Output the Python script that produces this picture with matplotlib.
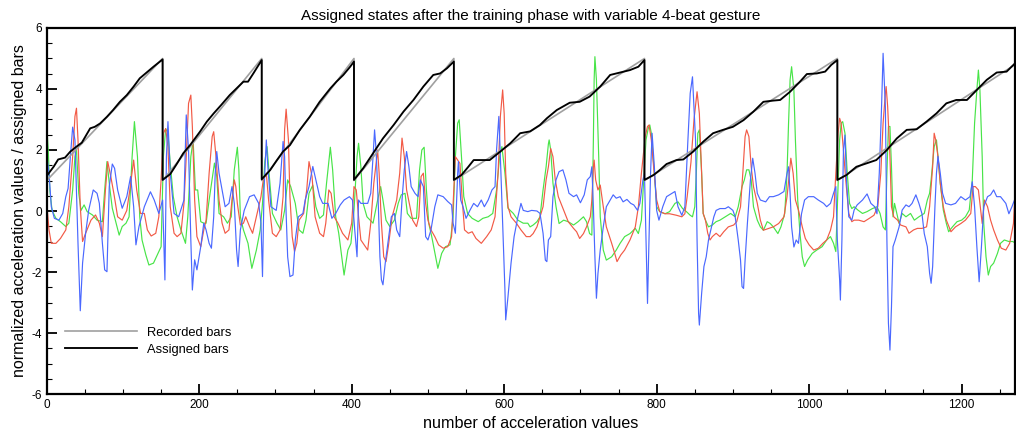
import matplotlib
matplotlib.use("Agg")
import matplotlib.pyplot as plt
from matplotlib.ticker import MultipleLocator

plt.rcParams["font.family"] = ["Liberation Sans", "DejaVu Sans"]
plt.rcParams["axes.unicode_minus"] = False

# acceleration signals (index, value)
blue_x = [0, 3, 6, 10, 16, 21, 25, 28, 31, 34, 37, 39, 41, 44, 47, 51, 55, 61, 66, 69,
          73, 76, 79, 82, 86, 89, 93, 99, 105, 110, 114, 117, 121, 128, 136, 141, 147, 152, 155, 157,
          159, 162, 167, 173, 180, 183, 186, 189, 191, 194, 197, 202, 206, 209, 213, 216, 219, 221, 223, 226,
          230, 234, 239, 243, 246, 249, 251, 254, 259, 266, 272, 278, 281, 283, 285, 288, 290, 294, 301, 306,
          310, 312, 314, 316, 319, 323, 326, 330, 336, 339, 344, 349, 353, 358, 362, 369, 374, 379, 385, 390,
          397, 401, 404, 407, 409, 412, 419, 421, 425, 428, 430, 432, 435, 437, 439, 441, 444, 448, 452, 456,
          459, 463, 466, 469, 472, 475, 478, 483, 487, 490, 494, 497, 500, 504, 509, 513, 520, 526, 531, 533,
          536, 539, 540, 543, 546, 550, 555, 560, 565, 570, 574, 579, 584, 588, 590, 593, 595, 598, 601, 602,
          605, 609, 613, 618, 622, 625, 631, 636, 643, 647, 651, 654, 656, 658, 661, 664, 668, 672, 677, 681,
          685, 691, 695, 700, 705, 709, 713, 715, 717, 719, 721, 723, 726, 730, 734, 739, 743, 747, 752, 756,
          761, 766, 770, 775, 778, 782, 784, 786, 788, 790, 792, 794, 797, 800, 803, 808, 813, 820, 824, 828,
          833, 837, 841, 844, 847, 851, 853, 855, 856, 859, 862, 865, 868, 872, 875, 878, 883, 890, 894, 900,
          903, 907, 910, 912, 914, 916, 919, 923, 926, 929, 932, 936, 943, 948, 953, 960, 967, 971, 973, 975,
          977, 980, 983, 986, 990, 994, 999, 1006, 1012, 1019, 1023, 1028, 1032, 1035, 1037, 1040, 1041, 1043, 1045, 1047,
          1049, 1052, 1056, 1059, 1063, 1070, 1076, 1081, 1086, 1089, 1092, 1095, 1097, 1100, 1102, 1104, 1106, 1108, 1110, 1113,
          1118, 1122, 1127, 1131, 1135, 1140, 1144, 1148, 1151, 1155, 1158, 1160, 1162, 1165, 1167, 1169, 1172, 1175, 1179, 1186,
          1192, 1199, 1205, 1211, 1214, 1217, 1220, 1223, 1226, 1229, 1234, 1238, 1242, 1246, 1251, 1258, 1262, 1266, 1271]
blue_y = [1.84, 1.24, 0.14, -0.24, -0.3, -0.08, 0.47, 0.74, 1.78, 2.75, 2.33, 0.69, -1.06, -3.27, -1.71, -0.73, 0.02, 0.69, 0.58, 0.25,
          -1.06, -1.93, -1.99, 0.8, 1.54, 1.4, 0.69, 0.09, 0.47, 1.13, 0.14, -1.11, -0.51, 0.14, 0.63, 0.36, -0.08, 0.36, -2.26, 1.78,
          2.93, 1.24, -0.08, -0.19, 0.36, 3.15, 2.0, -0.95, -2.59, -1.6, -1.93, -1.17, -0.4, -0.62, -1.06, -1.22, -0.19, 1.24, 1.95, 1.24,
          0.69, 0.14, 0.25, 0.8, 0.25, -1.28, -1.82, -0.62, 0.02, 0.47, 0.53, 0.25, -0.4, -2.15, 0.69, 2.33, 1.46, 0.14, 0.02, 0.91,
          2.28, 1.78, -0.08, -1.5, -2.15, -2.1, -0.95, -0.19, -0.08, 0.36, 0.8, 1.46, 1.02, 0.47, 0.25, 0.25, -0.24, -0.08, 0.2, 0.36,
          0.47, 0.36, -0.62, -1.5, 0.36, 0.25, 0.25, 0.25, 0.58, 1.78, 2.66, 2.0, 0.14, -1.5, -2.26, -2.42, -1.71, -0.95, -0.19, -0.08,
          -0.62, -0.84, 0.36, 1.35, 1.95, 1.46, 0.8, 0.58, 0.47, 1.02, 0.8, -0.84, -0.95, -0.62, 0.14, 0.53, 0.47, 0.31, 0.2, -0.4,
          -0.73, 1.24, 1.62, 0.36, 0.14, -0.24, 0.02, 0.25, 0.14, 0.36, 0.14, 0.36, 0.69, 0.8, 2.0, 3.1, 1.78, -0.4, -2.59, -3.57,
          -2.81, -1.71, -0.84, -0.19, 0.25, 0.02, -0.02, 0.02, 0.0, -0.08, -0.73, -1.61, -1.66, -0.95, -0.84, 0.47, 1.02, 1.29, 1.35, 1.02,
          0.58, 0.47, 0.53, 0.27, 0.53, 1.02, 1.13, 1.45, 0.14, -1.5, -2.86, -2.05, -1.28, -0.52, 0.14, 0.36, 0.53, 0.42, 0.47, 0.3,
          0.38, 0.25, 0.2, 0.02, 0.25, 1.02, 1.24, -0.95, -3.03, -0.95, 1.24, 2.55, 1.45, 0.02, -0.3, 0.14, 0.47, 0.58, 0.64, 0.14,
          -0.14, 0.14, 2.33, 3.86, 4.4, 2.33, -0.95, -3.36, -3.74, -2.7, -1.82, -1.5, -0.95, -0.52, -0.19, 0.02, 0.08, 0.08, 0.14, 0.02,
          -0.19, -0.95, -1.61, -2.48, -2.54, -1.61, -0.41, 1.02, 1.73, 1.24, 0.58, 0.36, 0.3, 0.47, 0.47, 0.53, 0.64, 1.24, 1.45, 0.58,
          -0.52, -1.18, -0.95, -1.06, -0.09, 0.36, 0.47, 0.47, 0.36, 0.25, 0.14, 0.25, 0.58, 0.8, -0.95, -2.26, -2.92, -0.95, 2.0, 2.49,
          1.02, -0.19, -0.3, 0.03, 0.2, 0.36, 0.56, 0.25, 0.14, -0.09, 1.24, 3.42, 5.17, 3.42, -0.95, -3.68, -4.56, -3.14, -1.17, -0.95,
          -0.52, 0.03, 0.2, 0.14, 0.25, 0.53, 0.25, -0.09, -0.74, -1.17, -2.04, -2.37, -1.82, 0.14, 1.24, 1.79, 1.24, 0.58, 0.25, 0.2,
          0.25, 0.47, 0.36, 0.47, 0.96, 0.14, -1.17, -2.32, -1.17, 0.14, 0.47, 0.53, 0.69, 0.47, 0.47, 0.25, -0.09, 0.14, 0.47]

red_x = [0, 3, 6, 12, 18, 25, 29, 34, 37, 39, 41, 44, 47, 51, 58, 64, 69, 73, 77, 80,
         84, 88, 93, 99, 105, 109, 114, 118, 123, 128, 132, 137, 143, 147, 150, 153, 156, 159, 162, 167,
         171, 176, 180, 183, 186, 189, 191, 194, 197, 202, 206, 209, 213, 217, 219, 222, 226, 230, 234, 239,
         243, 246, 248, 250, 254, 258, 261, 266, 270, 275, 281, 284, 288, 291, 296, 301, 306, 310, 312, 314,
         317, 319, 322, 325, 328, 331, 337, 341, 344, 348, 352, 358, 363, 366, 370, 373, 377, 382, 388, 395,
         400, 403, 406, 409, 412, 418, 421, 425, 429, 434, 436, 439, 442, 445, 448, 453, 459, 463, 466, 469,
         472, 476, 480, 485, 488, 491, 494, 497, 500, 504, 509, 514, 520, 526, 531, 534, 536, 539, 542, 545,
         548, 553, 558, 563, 570, 577, 583, 588, 592, 595, 598, 600, 602, 605, 609, 616, 622, 629, 634, 638,
         643, 647, 651, 655, 658, 661, 664, 667, 671, 678, 684, 691, 695, 699, 704, 708, 713, 715, 717, 718,
         720, 723, 726, 730, 734, 741, 745, 748, 753, 758, 765, 772, 776, 780, 785, 788, 790, 793, 796, 800,
         804, 811, 817, 826, 833, 837, 840, 845, 849, 853, 856, 859, 861, 864, 867, 870, 873, 878, 883, 888,
         894, 901, 905, 910, 913, 916, 918, 921, 924, 927, 932, 936, 940, 947, 953, 960, 967, 971, 974, 976,
         979, 982, 986, 991, 995, 1000, 1006, 1012, 1018, 1023, 1028, 1032, 1035, 1038, 1040, 1042, 1045, 1048, 1052, 1056,
         1059, 1065, 1072, 1079, 1085, 1090, 1094, 1097, 1100, 1101, 1103, 1106, 1108, 1111, 1116, 1120, 1127, 1131, 1137, 1142,
         1148, 1154, 1158, 1162, 1164, 1166, 1169, 1172, 1176, 1180, 1186, 1192, 1199, 1205, 1212, 1215, 1218, 1222, 1224, 1227,
         1230, 1234, 1238, 1242, 1247, 1252, 1258, 1263, 1268, 1271]
red_y = [0.25, -0.62, -1.06, -1.06, -0.9, -0.62, 0.14, 1.78, 3.1, 3.37, 2.33, 0.14, -1.0, -0.73, -0.3, -0.13, -0.4, -0.84, 0.69, 1.62,
         1.13, 0.58, -0.19, -0.3, 0.02, 0.69, 1.67, 0.69, -0.08, -0.08, -0.62, -0.82, -0.73, -0.19, 1.02, 2.55, 2.7, 2.1, 0.14, -0.73,
         -0.84, -0.73, 0.25, 1.78, 3.53, 3.8, 2.77, 0.36, -0.84, -1.17, -0.62, -0.3, 1.24, 2.44, 2.6, 1.78, 0.36, -0.4, -0.73, -0.62,
         0.36, 1.02, 0.8, 0.25, -0.46, -0.4, -0.19, -0.51, -0.73, -0.19, 0.47, 1.02, 1.24, 0.36, -0.73, -0.84, -0.62, 0.47, 2.66, 3.34,
         2.33, 0.47, -0.84, -1.33, -1.06, -0.3, -0.08, 0.69, 1.62, 1.13, -0.19, -0.73, -0.84, -0.4, 0.69, 0.58, -0.19, -0.4, -0.73, -0.95,
         -0.4, 0.8, 0.69, -0.19, -0.95, -1.17, -1.28, -0.4, 0.91, 2.0, 1.24, -0.4, -1.5, -1.66, -1.17, -0.19, 0.36, 1.24, 2.39, 1.78,
         0.69, 0.2, -0.3, -0.51, -0.19, 1.13, 1.24, 0.25, -0.3, -0.62, -0.84, -1.11, -1.22, -1.17, -0.84, 0.69, 1.78, 1.67, 1.56, 0.36,
         -0.62, -0.73, -0.68, -0.9, -1.06, -0.84, -0.62, -0.19, 1.24, 3.1, 3.97, 3.2, 1.24, 0.14, -0.19, -0.4, -0.62, -0.84, -0.84, -0.74,
         -0.52, -0.19, 0.14, 1.02, 1.45, 2.05, 1.78, 1.02, 0.47, 0.03, -0.35, -0.57, -0.68, -0.9, -0.74, -0.52, -0.19, 0.36, 1.45, 1.67,
         1.02, 0.69, 0.85, 0.14, -0.52, -1.06, -1.39, -1.66, -1.44, -1.28, -0.95, -0.52, 0.14, 1.24, 2.44, 2.77, 2.82, 2.33, 1.45, 0.36,
         -0.02, -0.09, -0.09, -0.14, -0.19, -0.09, 0.47, 1.6, 3.0, 3.91, 3.2, 1.24, -0.08, -0.3, -0.73, -0.95, -0.84, -0.73, -0.84, -0.68,
         -0.52, -0.46, -0.35, 0.14, 1.24, 2.44, 2.66, 2.44, 1.45, 0.8, 0.25, -0.3, -0.63, -0.57, -0.52, -0.41, -0.19, 0.47, 1.24, 1.73,
         1.24, 0.36, 0.03, -0.52, -0.9, -1.11, -1.28, -1.22, -1.06, -0.95, -0.63, -0.19, 1.24, 2.55, 3.04, 2.88, 2.0, 1.02, -0.08, -0.35,
         -0.3, -0.3, -0.35, -0.24, -0.14, 0.14, 1.24, 2.88, 3.86, 4.08, 3.42, 1.78, 0.14, -0.19, -0.3, -0.46, -0.52, -0.73, -0.62, -0.57,
         -0.57, -0.52, 0.14, 1.45, 2.55, 2.33, 1.78, 0.91, 0.14, -0.3, -0.68, -0.52, -0.41, -0.3, -0.08, 0.8, 0.8, 0.69, 0.25, -0.41,
         0.36, 0.14, -0.3, -0.62, -0.95, -1.22, -1.28, -1.06, -0.41, 1.02]

green_x = [0, 2, 4, 7, 12, 18, 25, 29, 34, 37, 39, 42, 45, 49, 53, 60, 66, 73, 76, 79,
           83, 86, 90, 95, 99, 104, 108, 112, 115, 119, 122, 125, 130, 134, 140, 145, 150, 153, 156, 159,
           162, 166, 171, 176, 182, 185, 189, 192, 195, 198, 202, 206, 209, 213, 218, 220, 223, 226, 232, 237,
           242, 246, 250, 252, 254, 258, 264, 269, 275, 280, 283, 286, 289, 292, 296, 302, 307, 312, 316, 320,
           326, 331, 336, 340, 344, 349, 353, 358, 363, 367, 372, 375, 379, 383, 388, 390, 395, 399, 403, 407,
           409, 412, 415, 420, 428, 434, 438, 441, 445, 450, 456, 461, 465, 470, 473, 478, 485, 489, 492, 495,
           498, 501, 505, 510, 513, 518, 523, 529, 533, 536, 539, 541, 544, 547, 552, 558, 566, 572, 579, 585,
           590, 594, 597, 601, 605, 612, 618, 625, 631, 634, 638, 643, 647, 651, 655, 658, 659, 661, 664, 668,
           672, 678, 684, 691, 697, 704, 708, 712, 715, 717, 718, 719, 721, 724, 726, 730, 734, 741, 747, 752,
           758, 765, 772, 776, 780, 783, 786, 789, 791, 793, 797, 800, 804, 811, 817, 824, 828, 834, 839, 844,
           847, 850, 852, 854, 856, 859, 861, 864, 868, 873, 878, 883, 890, 897, 903, 907, 912, 915, 918, 921,
           924, 927, 932, 936, 940, 945, 949, 953, 959, 963, 968, 971, 973, 975, 977, 980, 982, 985, 988, 991,
           994, 998, 1004, 1010, 1017, 1023, 1028, 1032, 1035, 1037, 1040, 1042, 1044, 1047, 1050, 1053, 1056, 1059, 1064, 1070,
           1076, 1083, 1089, 1093, 1097, 1100, 1102, 1104, 1106, 1108, 1110, 1112, 1115, 1118, 1122, 1127, 1133, 1138, 1144, 1151,
           1155, 1158, 1160, 1164, 1167, 1169, 1172, 1176, 1180, 1183, 1188, 1194, 1200, 1205, 1210, 1214, 1217, 1220, 1222, 1224,
           1227, 1229, 1232, 1235, 1238, 1242, 1247, 1251, 1256, 1262, 1267, 1271]
green_y = [2.77, 2.0, 0.69, 0.02, -0.24, -0.35, -0.51, -0.4, 0.69, 1.78, 2.0, 0.58, 0.02, 0.2, -0.02, -0.13, -0.3, -0.35, 0.69, 1.62,
           0.69, 0.09, -0.3, -0.79, -0.51, -0.4, -0.19, 1.78, 2.93, 1.78, -0.19, -0.95, -1.44, -1.77, -1.71, -1.44, -1.17, 1.78, 2.7, 2.55,
           1.56, 0.47, -0.19, -0.62, -1.06, -0.19, 1.78, 2.33, 0.69, 0.69, -0.35, -0.4, -0.4, 0.36, 1.24, 1.57, 1.13, -0.08, -0.19, -0.4,
           -0.19, 1.35, 2.09, 1.35, -0.19, -0.62, -1.06, -1.88, -1.28, -0.62, 0.25, 1.62, 2.11, 1.13, -0.08, -0.4, -0.62, 0.02, 1.02, 0.8,
           0.25, -0.62, -0.73, -0.3, 0.58, 0.85, 0.14, -0.24, -0.13, 0.91, 2.09, 1.35, -0.19, -0.73, -1.71, -2.1, -1.28, -1.06, 0.02, 1.78,
           2.22, 1.46, 0.25, -0.19, -0.4, 0.36, 0.8, 0.36, -0.3, -0.51, -0.3, 0.25, 0.53, 0.58, -0.08, -0.24, -0.24, 1.35, 2.0, 2.09,
           0.69, -0.4, -0.84, -1.5, -1.88, -1.39, -1.17, -1.11, -0.19, 1.78, 2.88, 2.99, 1.78, 0.47, -0.08, -0.24, -0.35, -0.24, -0.19, -0.08,
           0.69, 1.78, 2.11, 1.24, 0.09, -0.08, -0.3, -0.4, -0.4, -0.52, -0.46, -0.35, -0.19, 0.69, 1.45, 2.2, 2.33, 2.0, 0.91, 0.14,
           -0.41, -0.3, -0.35, -0.46, -0.35, -0.19, -0.35, -0.74, -0.79, 2.33, 4.3, 5.06, 4.3, 1.78, -0.19, -1.28, -1.61, -1.5, -1.28, -1.06,
           -0.84, -0.74, -0.57, -0.74, -0.3, 1.02, 2.33, 2.71, 2.82, 2.55, 1.24, 0.14, -0.02, -0.09, -0.02, 0.25, 0.3, 0.08, -0.02, -0.14,
           -0.19, 0.14, 1.24, 2.55, 2.66, 1.24, -0.08, -0.3, -0.52, -0.46, -0.35, -0.3, -0.19, -0.08, -0.19, 0.14, 0.8, 1.02, 1.35, 1.35,
           1.02, 0.14, -0.3, -0.52, -0.63, -0.35, -0.41, -0.52, -0.74, -0.52, -0.08, 1.24, 2.88, 4.3, 4.73, 3.97, 2.33, 0.36, -0.74, -1.5,
           -1.82, -1.61, -1.39, -1.28, -1.17, -0.95, -0.84, -1.06, -1.33, 0.14, 2.33, 2.88, 2.93, 2.55, 1.24, 0.25, 0.08, 0.14, 0.03, -0.08,
           -0.02, 0.08, 0.14, -0.08, -0.52, -0.62, 1.24, 2.77, 2.77, 1.45, -0.19, 0.25, -0.08, -0.41, -0.08, -0.19, -0.08, -0.3, -0.19, -0.08,
           0.36, 0.58, 1.02, 2.11, 2.33, 1.78, 0.91, 0.03, -0.41, -0.68, -0.52, -0.35, -0.3, -0.19, 0.03, 1.02, 2.88, 3.97, 4.62, 3.97,
           1.78, -0.41, -1.5, -2.1, -1.82, -1.71, -1.39, -1.06, -0.95, -1.0, -1.0, -1.06]

# bars: recorded (ideal sawtooth) and assigned by the model
rec_x = [0, 152, 152, 282, 282, 403, 403, 534, 534, 784, 784, 1037, 1037, 1270]
rec_y = [1, 5, 1, 5, 1, 5, 1, 5, 1, 5, 1, 5, 1, 4.8]

asg_x = [0, 9, 15, 24, 31, 39, 46, 57, 63, 70, 79, 87, 96, 105, 114, 122, 131, 140, 152,
         152, 162, 171, 179, 188, 201, 210, 219, 229, 240, 249, 258, 264, 271, 282,
         282, 293, 302, 310, 319, 332, 345, 358, 372, 380, 389, 398, 403,
         403, 415, 428, 441, 455, 468, 481, 494, 507, 516, 525, 534,
         534, 544, 553, 560, 581, 595, 608, 621, 634, 647, 656, 669, 686, 699, 712, 726, 739, 752, 765, 776, 784,
         784, 796, 804, 813, 826, 835, 848, 861, 874, 887, 900, 914, 927, 940, 953, 962, 975, 988, 997, 1010, 1021, 1029, 1037,
         1037, 1049, 1062, 1075, 1088, 1102, 1115, 1128, 1141, 1154, 1167, 1180, 1193, 1207, 1220, 1233, 1246, 1259, 1270]
asg_y = [1.15, 1.45, 1.69, 1.75, 1.95, 2.11, 2.24, 2.71, 2.76, 2.87, 3.09, 3.31, 3.58, 3.8, 4.08, 4.35, 4.54, 4.73, 4.97,
         1.02, 1.21, 1.56, 1.89, 2.16, 2.6, 2.93, 3.2, 3.48, 3.8, 4.02, 4.24, 4.24, 4.51, 4.95,
         1.04, 1.34, 1.67, 1.95, 2.16, 2.66, 3.09, 3.58, 4.02, 4.24, 4.46, 4.73, 4.9,
         1.02, 1.4, 1.89, 2.38, 2.82, 3.26, 3.64, 4.08, 4.46, 4.51, 4.68, 4.9,
         1.02, 1.18, 1.45, 1.67, 1.67, 1.95, 2.22, 2.55, 2.61, 2.82, 3.04, 3.31, 3.55, 3.58, 3.75, 4.08, 4.46, 4.54, 4.62, 4.73, 4.95,
         1.02, 1.18, 1.34, 1.54, 1.67, 1.69, 1.95, 2.27, 2.55, 2.66, 2.76, 2.98, 3.26, 3.58, 3.62, 3.64, 3.91, 4.24, 4.49, 4.51, 4.57, 4.79, 4.95,
         1.02, 1.18, 1.45, 1.56, 1.67, 2.0, 2.38, 2.66, 2.68, 2.93, 3.2, 3.53, 3.64, 3.64, 3.97, 4.3, 4.54, 4.57, 4.84]

fig = plt.figure(figsize=(10.16, 4.36), dpi=100)
ax = fig.add_axes([0.046, 0.0963, 0.953, 0.8395])

ax.plot(green_x, green_y, color="#48e448", lw=0.85)
ax.plot(red_x, red_y, color="#f25a46", lw=0.85)
ax.plot(blue_x, blue_y, color="#4a68ff", lw=0.85)
ax.plot(rec_x, rec_y, color="#a0a0a0", lw=1.2, label="Recorded bars")
ax.plot(asg_x, asg_y, color="black", lw=1.35, label="Assigned bars")

ax.set_xlim(0, 1270)
ax.set_ylim(-6, 6)
ax.xaxis.set_major_locator(MultipleLocator(200))
ax.xaxis.set_minor_locator(MultipleLocator(50))
ax.yaxis.set_major_locator(MultipleLocator(2))
ax.yaxis.set_minor_locator(MultipleLocator(0.5))
ax.tick_params(which="both", direction="in", top=False, right=False, labelsize=8.5)
ax.tick_params(which="major", length=7, width=1.3)
ax.tick_params(which="minor", length=3.5, width=0.8)
for sp in ax.spines.values():
    sp.set_linewidth(1.6)

ax.set_title("Assigned states after the training phase with variable 4-beat gesture", fontsize=11, pad=6)
ax.set_xlabel("number of acceleration values", fontsize=11.6, labelpad=4)
ax.set_ylabel("normalized acceleration values / assigned bars", fontsize=11.5, labelpad=3)

ax.legend(loc="lower left", bbox_to_anchor=(0.019, 0.105), frameon=False, fontsize=9.3,
          handlelength=5.6, handletextpad=0.75, labelspacing=0.35, borderpad=0, borderaxespad=0)

fig.savefig("out.png", dpi=100)
